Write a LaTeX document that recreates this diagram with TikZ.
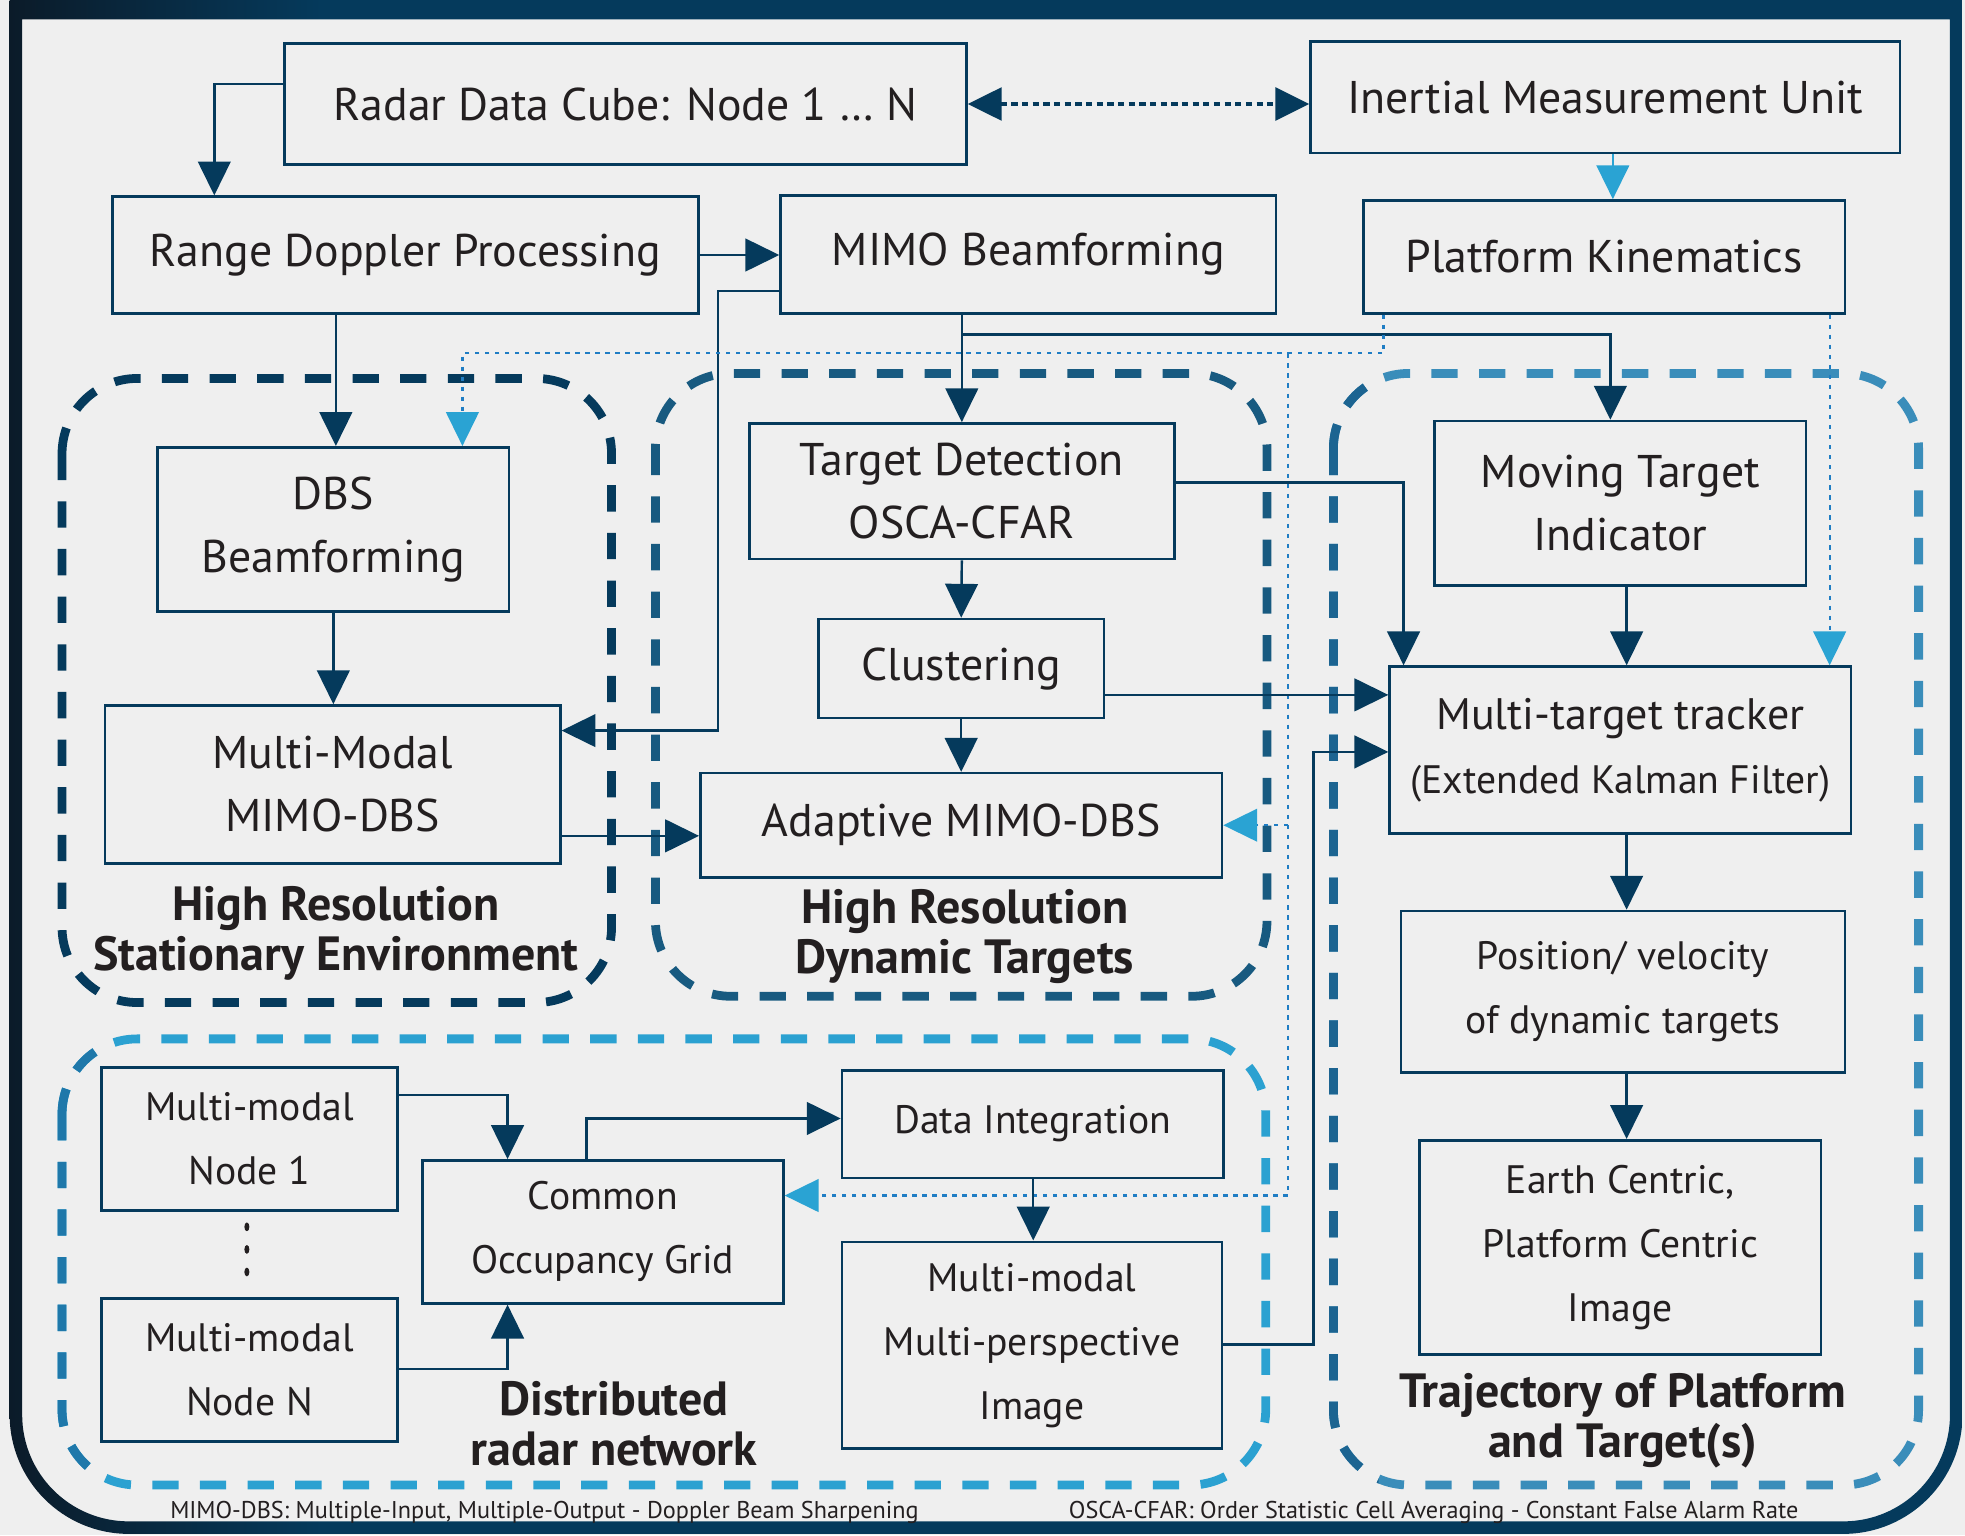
\documentclass[tikz,border=0pt]{standalone}
\usepackage{fontspec}
\setmainfont{PT Sans}
\usetikzlibrary{arrows.meta}

\definecolor{navy}{HTML}{053A5C}
\definecolor{frmdk}{HTML}{0B1B29}
\definecolor{ink}{HTML}{231F20}
\definecolor{paper}{HTML}{EFEFEF}
\definecolor{lblue}{HTML}{2AA3D3}
\definecolor{dotc}{HTML}{1F7DC4}
\definecolor{grpA}{HTML}{053A5C}
\definecolor{grpB}{HTML}{185A80}
\definecolor{grpC}{HTML}{3A8DBA}
\definecolor{grpCdk}{HTML}{1C6491}
\definecolor{grpD}{HTML}{2BA1D1}
\definecolor{grpDdk}{HTML}{1F78AA}

\pgfdeclarehorizontalshading{frameshade}{100bp}{color(0bp)=(frmdk); color(25bp)=(frmdk); color(33bp)=(navy); color(100bp)=(navy)}

\tikzstyle{blk} = [draw=navy, line width=0.6pt, text=ink, align=center, inner sep=0pt, font=\fontsize{10.4}{14.3}\selectfont]
\tikzstyle{blks} = [blk, font=\fontsize{9.0}{14.5}\selectfont]
\tikzstyle{grp} = [line width=0.07cm, dash pattern=on 0.21cm off 0.17cm, rounded corners=0.6cm]
\tikzstyle{grplbl} = [text=ink, align=center, inner sep=0pt, font=\bfseries\fontsize{10.9}{11.3}\selectfont]
\tikzstyle{note} = [text=ink, inner sep=0pt, font=\fontsize{5.5}{7}\selectfont]
\tikzstyle{arr} = [draw=navy, line width=0.55pt, -{Triangle[width=0.26cm,length=0.27cm]}]
\tikzstyle{arrlb} = [draw=lblue, line width=0.55pt, -{Triangle[width=0.26cm,length=0.27cm]}]
\tikzstyle{dotarr} = [draw=dotc, line width=0.5pt, dash pattern=on 0.035cm off 0.045cm, -{Triangle[width=0.26cm,length=0.27cm,color=lblue]}]
\tikzstyle{dotdk} = [draw=navy, line width=0.8pt, dash pattern=on 0.05cm off 0.035cm, {Triangle[width=0.26cm,length=0.27cm]}-{Triangle[width=0.26cm,length=0.27cm]}]

\begin{document}
\begin{tikzpicture}[x=0.01cm, y=-0.01cm]
\useasboundingbox (0,0) rectangle (1568,1225);
\fill[paper] (0,0) rectangle (1568,1225);

% frame, dark band along the top
\shade[shading=frameshade, even odd rule]
  (7.7,0) -- (7.7,600) [rounded corners=0.95cm] -- (7.7,1224) -- (1566,1224) -- (1566,600) [sharp corners] -- (1566,0) -- cycle
  (17.7,15.5) -- (17.7,600) [rounded corners=0.85cm] -- (17.7,1214) -- (1556,1214) -- (1556,600) [sharp corners] -- (1556,15.5) -- cycle;

% dashed groups
\draw[grp, draw=grpA] (49.5,302) rectangle (488,800);
\draw[grp, draw=grpB] (523,298) rectangle (1011,795);
\draw[grp, draw=grpC] (1064,298) rectangle (1531,1185);
\draw[grp, draw=grpD] (49.5,829) rectangle (1010,1185);
\begin{scope}
  \clip (1040,280) rectangle (1100,1200);
  \draw[grp, draw=grpCdk] (1064,298) rectangle (1531,1185);
\end{scope}
\begin{scope}
  \clip (30,810) rectangle (80,1200);
  \draw[grp, draw=grpDdk] (49.5,829) rectangle (1010,1185);
\end{scope}

% blocks
\node[blk, minimum width=5.44cm, minimum height=0.96cm] (cube) at (499,83) {Radar Data Cube: Node 1 … N};
\node[blk, minimum width=4.70cm, minimum height=0.89cm] (imu) at (1281,77.5) {Inertial Measurement Unit};
\node[blk, minimum width=4.67cm, minimum height=0.93cm] (rdp) at (323.5,203.5) {Range Doppler Processing};
\node[blk, minimum width=3.95cm, minimum height=0.94cm] (mimobf) at (820.5,203) {MIMO Beamforming};
\node[blk, minimum width=3.84cm, minimum height=0.90cm] (pk) at (1280,205) {Platform Kinematics};

\node[blk, minimum width=2.80cm, minimum height=1.31cm] (dbs) at (266,422.5) {DBS\\Beamforming};
\node[blk, minimum width=3.63cm, minimum height=1.26cm] (mmdbs) at (265.5,626) {Multi-Modal\\MIMO-DBS};

\node[blk, minimum width=3.39cm, minimum height=1.08cm] (det) at (767.5,392) {Target Detection\\OSCA-CFAR};
\node[blk, minimum width=2.28cm, minimum height=0.79cm] (clus) at (767,533.5) {Clustering};
\node[blk, minimum width=4.16cm, minimum height=0.83cm] (adbs) at (767,658.5) {Adaptive MIMO-DBS};

\node[blk, minimum width=2.96cm, minimum height=1.31cm] (mti) at (1293,401.5) {Moving Target\\Indicator};
\node[blk, minimum width=3.68cm, minimum height=1.33cm, font=\fontsize{10}{14.5}\selectfont] (mtt) at (1293,598.5) {Multi-target tracker\\{\fontsize{9.0}{14.5}\selectfont(Extended Kalman Filter)}};
\node[blks, minimum width=3.54cm, minimum height=1.29cm] (posv) at (1295,791.5) {Position/ velocity\\of dynamic targets};
\node[blks, minimum width=3.20cm, minimum height=1.71cm] (earth) at (1293,995.5) {Earth Centric,\\Platform Centric\\Image};

\node[blks, minimum width=2.36cm, minimum height=1.14cm] (node1) at (199,909) {Multi-modal\\Node 1};
\node[blks, minimum width=2.36cm, minimum height=1.14cm] (nodeN) at (199,1093) {Multi-modal\\Node N};
\node[blks, minimum width=2.88cm, minimum height=1.14cm] (cog) at (481,983) {Common\\Occupancy Grid};
\node[blks, minimum width=3.04cm, minimum height=0.86cm] (dint) at (824,897) {Data Integration};
\node[blks, minimum width=3.03cm, minimum height=1.65cm] (mmimg) at (823.5,1073.5) {Multi-modal\\Multi-perspective\\Image};

% dots between the radar nodes
\foreach \yy in {979,997,1015}
  \fill[ink] (197,\yy) ellipse (0.02cm and 0.035cm);

% group labels
\node[grplbl] (lblA) at (268,745) {High Resolution\\Stationary Environment};
\node[grplbl] (lblB) at (770,747) {High Resolution\\Dynamic Targets};
\node[grplbl] (lblD) at (490,1136) {Distributed\\radar network};
\node[grplbl] (lblC) at (1295,1134) {Trajectory of Platform\\and Target(s)};

% footnotes
\node[note] (noteA) at (434.5,1207) {MIMO-DBS: Multiple-Input, Multiple-Output - Doppler Beam Sharpening};
\node[note] (noteB) at (1144,1207) {OSCA-CFAR: Order Statistic Cell Averaging - Constant False Alarm Rate};

% connectors
\draw[arr] (cube.west |- 0,67) -| (rdp.north -| 171,0);
\draw[dotdk] (cube.east) -- (imu.west |- cube.east);
\draw[arrlb] (imu.south -| 1287,0) -- (pk.north -| 1287,0);
\draw[arr] (rdp.east) -- (mimobf.west |- rdp.east);
\draw[arr] (rdp.south -| 268,0) -- (dbs.north -| 268,0);
\draw[arr] (mimobf.west |- 0,232) -| (573,583) -- (mmdbs.east |- 0,583);
\draw[arr] (mimobf.south -| det.north) -- (det.north);
\draw[arr] (det.north |- 0,267) -| (mti.north -| 1285,0);

\draw[dotarr] (pk.south -| 1104,0) |- (369,282) -- (dbs.north -| 369,0);
\coordinate (tap) at (1028,282);
\draw[dotarr] (tap) |- (cog.east |- 0,954);
\draw[dotarr] (tap |- adbs.east) -- (adbs.east);
\draw[dotarr] (pk.south -| 1460,0) -- (mtt.north -| 1460,0);

\draw[arr] (det.east |- 0,385) -| (mtt.north -| 1120,0);
\draw[arr] (det.south) -- (clus.north);
\draw[arr] (clus.east |- 0,554.5) -- (mtt.west |- 0,554.5);
\draw[arr] (clus.south) -- (adbs.north);
\draw[arr] (dbs.south) -- (dbs.south |- mmdbs.north);
\draw[arr] (mmdbs.east |- 0,667) -- (adbs.west |- 0,667);
\draw[arr] (mti.south -| 1298,0) -- (mtt.north -| 1298,0);
\draw[arr] (mtt.south -| 1298,0) -- (posv.north -| 1298,0);
\draw[arr] (posv.south -| 1298,0) -- (earth.north -| 1298,0);

\draw[arr] (node1.east |- 0,874) -| (cog.north -| 405,0);
\draw[arr] (nodeN.east |- 0,1092.5) -| (cog.south -| 405,0);
\draw[arr] (cog.north -| 468,0) |- (dint.west |- 0,892.5);
\draw[arr] (dint.south -| 824.5,0) -- (mmimg.north -| 824.5,0);
\draw[arr] (mmimg.east |- 0,1073) -| (1048,600) -- (mtt.west |- 0,600);

\end{tikzpicture}
\end{document}
